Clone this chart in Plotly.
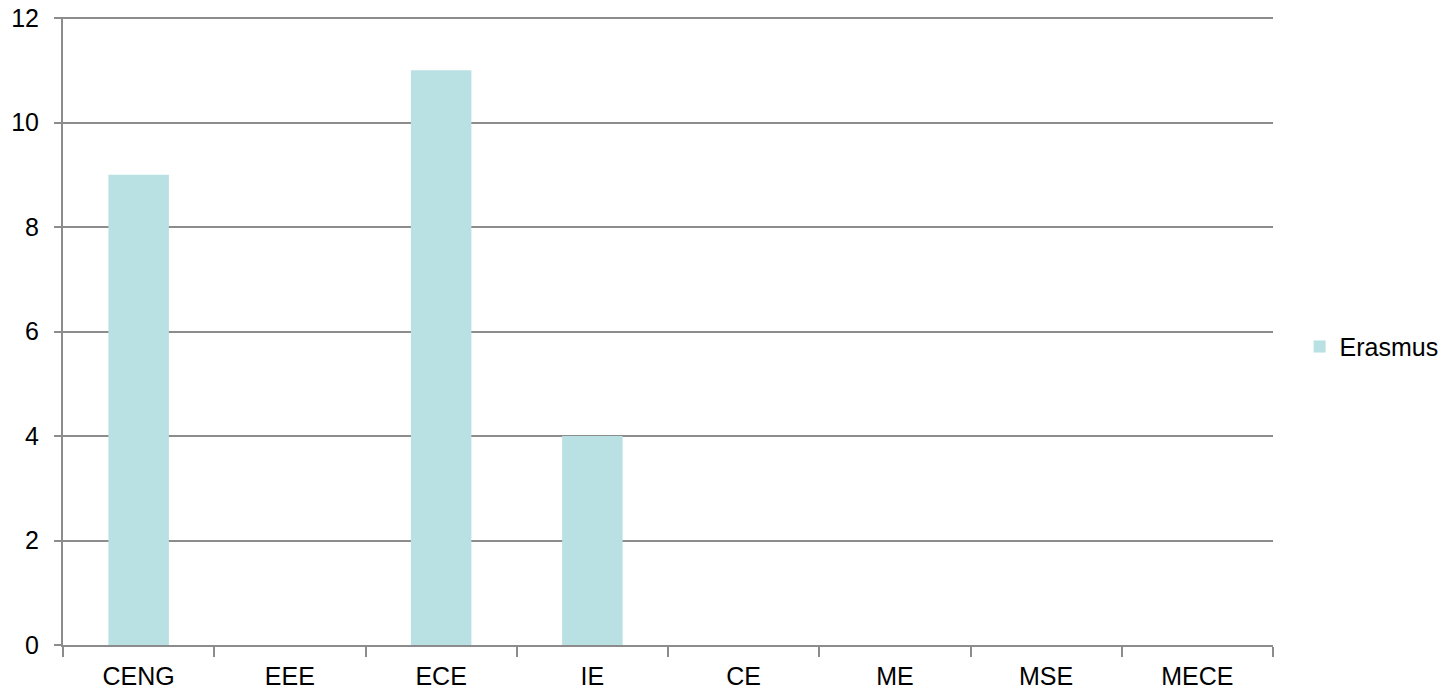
import plotly.graph_objects as go

categories = ["CENG", "EEE", "ECE", "IE", "CE", "ME", "MSE", "MECE"]
erasmus = [9, 0, 11, 4, 0, 0, 0, 0]

grid = "#8c8c8c"
fig = go.Figure()
fig.add_trace(go.Bar(x=categories, y=erasmus, name="Erasmus",
                     marker=dict(color="#b9e0e2", line=dict(width=0)), width=0.4))

fig.update_layout(
    width=1450, height=690,
    margin=dict(l=63, r=177, t=17, b=45, autoexpand=False),
    plot_bgcolor="white", paper_bgcolor="white",
    font=dict(family="Liberation Sans, Arial", size=25, color="black"),
    showlegend=True,
    legend=dict(x=1.022, y=0.475, xanchor="left", yanchor="middle",
                font=dict(size=25), itemwidth=30, traceorder="normal"),
    bargap=0.6,
)
fig.update_xaxes(type="category", tickson="boundaries", ticks="outside", ticklen=10,
                 tickcolor=grid, tickwidth=2, showline=True, linecolor=grid, linewidth=2,
                 showgrid=False, ticklabelstandoff=8, automargin=False,
                 ticklabeloverflow="allow")
fig.update_yaxes(range=[0, 12.02], tickvals=[0, 2, 4, 6, 8, 10, 12], ticks="outside",
                 ticklen=7, tickcolor=grid,
                 tickwidth=2, showline=True, linecolor=grid, linewidth=2,
                 showgrid=True, gridcolor=grid, gridwidth=2, zeroline=False,
                 ticklabelstandoff=10, automargin=False, ticklabeloverflow="allow")
fig.write_html("out.html", config={"displayModeBar": False},
               post_script="document.body.style.margin='0';")
